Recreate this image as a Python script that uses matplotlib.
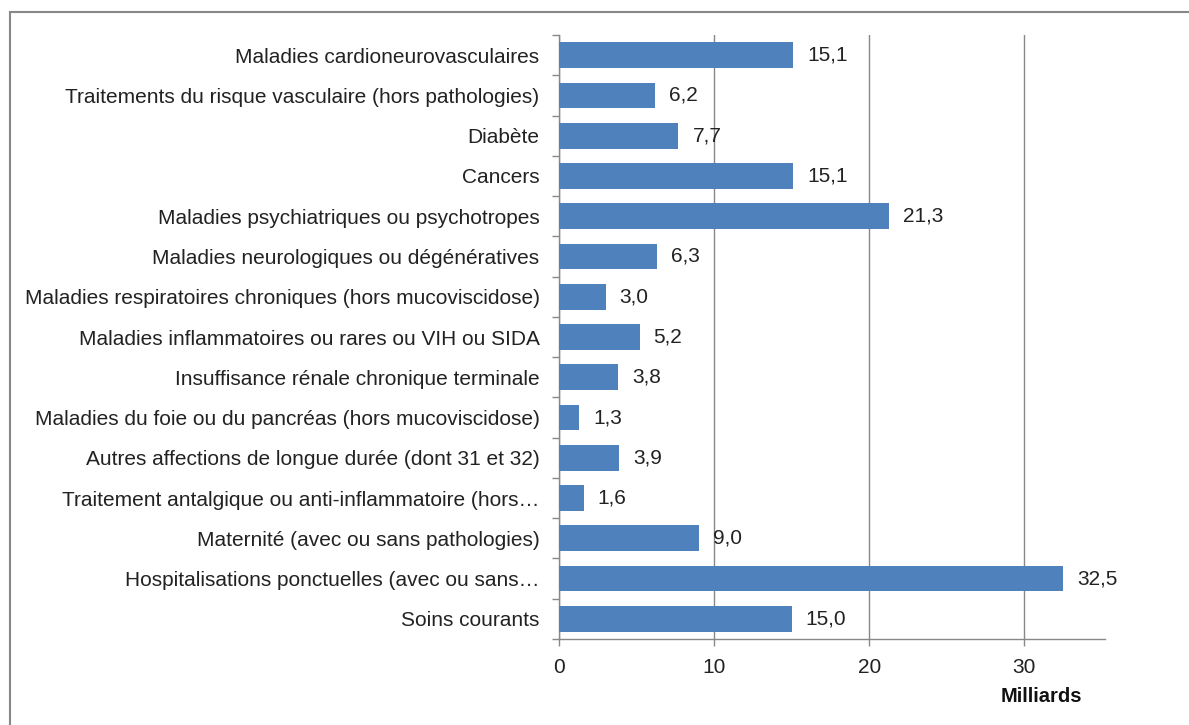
import matplotlib.pyplot as plt
import numpy as np

plt.rcParams['font.family'] = ['Liberation Sans', 'DejaVu Sans']

categories = [
    'Maladies cardioneurovasculaires',
    'Traitements du risque vasculaire (hors pathologies)',
    'Diabète',
    'Cancers',
    'Maladies psychiatriques ou psychotropes',
    'Maladies neurologiques ou dégénératives',
    'Maladies respiratoires chroniques (hors mucoviscidose)',
    'Maladies inflammatoires ou rares ou VIH ou SIDA',
    'Insuffisance rénale chronique terminale',
    'Maladies du foie ou du pancréas (hors mucoviscidose)',
    'Autres affections de longue durée (dont 31 et 32)',
    'Traitement antalgique ou anti-inflammatoire (hors…',
    'Maternité (avec ou sans pathologies)',
    'Hospitalisations ponctuelles (avec ou sans…',
    'Soins courants',
]
values = [15.1, 6.2, 7.7, 15.1, 21.3, 6.3, 3.0, 5.2, 3.8, 1.3, 3.9, 1.6, 9.0, 32.5, 15.0]
xticks = [0, 10, 20, 30]

fs = 15
txt = '#222222'

fig = plt.figure(figsize=(11.89, 7.25), dpi=100)
ax = fig.add_axes([559 / 1189, 1 - 639 / 725, (1105 - 559) / 1189, (639 - 35) / 725])

y = np.arange(len(categories))
ax.barh(y, values, height=0.64, color='#4F81BD', zorder=3)
for yi, v in zip(y, values):
    ax.text(v + 0.9, yi, f'{v:.1f}'.replace('.', ','), va='center', ha='left',
            fontsize=fs, color=txt)

ax.set_ylim(len(categories) - 0.5, -0.5)
ax.set_xlim(0, 35.2)
ax.set_yticks(y)
ax.set_yticklabels(categories, fontsize=fs, color=txt)
ax.tick_params(axis='y', which='major', length=0, pad=14)
ax.set_yticks(np.arange(-0.5, len(categories), 1), minor=True)
ax.tick_params(axis='y', which='minor', length=5, color='#888888', width=1)

ax.set_xticks(xticks)
ax.set_xticklabels([str(t) for t in xticks], fontsize=fs, color=txt)
ax.tick_params(axis='x', length=5, color='#888888', width=1, pad=9)
ax.grid(axis='x', color='#888888', linewidth=1, zorder=0)
ax.set_axisbelow(True)

for s in ['top', 'right']:
    ax.spines[s].set_visible(False)
for s in ['left', 'bottom']:
    ax.spines[s].set_color('#888888')
    ax.spines[s].set_linewidth(1)

fig.text(1041 / 1189, 1 - 697 / 725, 'Milliards', fontsize=fs - 0.5, fontweight='bold',
         ha='center', va='center', color='#111111')

# outer frame of the chart object
fig.add_artist(plt.Line2D([10 / 1189, 1.0], [1 - 12 / 725, 1 - 12 / 725],
                          color='#888888', linewidth=1.5))
fig.add_artist(plt.Line2D([10 / 1189, 10 / 1189], [0.0, 1 - 12 / 725],
                          color='#888888', linewidth=1.5))

fig.savefig('out.png', dpi=100)
